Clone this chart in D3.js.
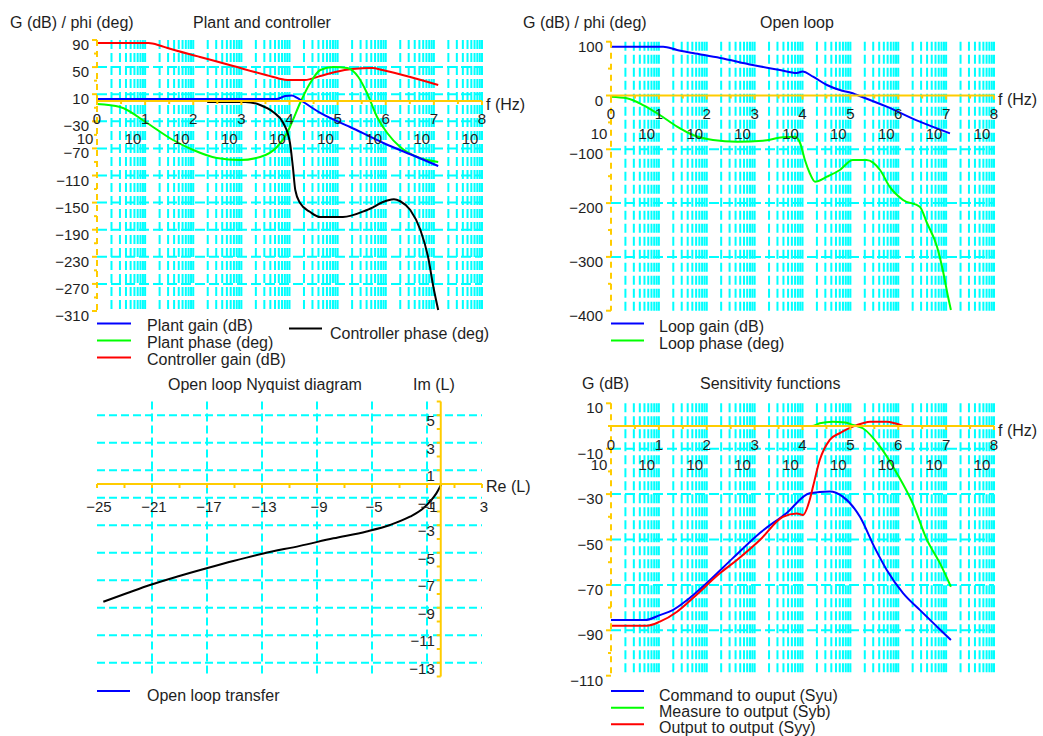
<!DOCTYPE html>
<html><head><meta charset="utf-8">
<script src="https://cdn.jsdelivr.net/npm/d3@7"></script>
<style>
body{margin:0;background:#fff}
text{font-family:"Liberation Sans",Arial,Helvetica,sans-serif;fill:#1e1e1e}
</style>
</head><body>
<svg id="c" width="1043" height="736"></svg>
<script>
// ---------- data (x values are log10 of frequency in Hz) ----------
const decadeExps = [0,1,2,3,4,5,6,7,8];

// Plant and controller
const plantGainLogF = [0,3.74,3.91,4.05,4.16,4.32,4.64,5.26,5.95,6.65,7.09];
const plantGainDb   = [2.9,2.9,7.3,8.1,4.4,-3.0,-17.7,-38.4,-62,-82.7,-96];
const plantPhaseLogF = [0,0.48,1.04,1.58,2.0,2.49,2.97,3.39,3.74,3.95,4.07,4.22,4.43,4.64,4.91,5.20,5.43,5.61,5.82,6.03,6.30,6.65,7.09];
const plantPhaseDeg  = [-4.5,-8.9,-32.5,-57.6,-72.4,-84.2,-87.1,-82.7,-67.9,-47.3,-28.1,-3.0,26.5,45.7,50.1,48.7,35.4,11.8,-23.7,-47.3,-67.9,-82.7,-90];
const ctrlGainLogF = [0,1.07,1.3,1.45,2.14,2.83,3.53,3.9,4.0,4.32,4.64,4.95,5.30,5.72,5.93,6.51,7.09];
const ctrlGainDb   = [85.6,85.4,82,78.5,65,51.5,38,31.5,31,31,36.9,42.8,47.2,48.7,45.7,35.4,23.6];
const ctrlPhaseLogF = [2.29,3.08,3.39,3.66,3.87,4.01,4.07,4.12,4.22,4.43,4.64,5.11,5.61,6.03,6.17,6.30,6.51,6.72,6.88,6.99,7.09];
const ctrlPhaseDeg  = [-1.5,-1.5,-5.9,-16.3,-32.5,-62,-97.4,-131.4,-150.6,-163.9,-171.3,-171.3,-160.9,-147,-145,-148,-160.9,-190.4,-230.3,-274.6,-308.5];
const plantTicks = [90,50,10,-30,-70,-110,-150,-190,-230,-270,-310];
const plantMinor = [70,30,-10,-50,-90,-130,-170,-210,-250,-290];

// Open loop
const loopGainLogF = [0,1.09,1.38,1.71,2.28,2.96,3.53,3.88,4.0,4.22,4.51,4.78,5.03,5.14,5.76,6.45,7.08];
const loopGainDb   = [90.7,90.7,84.6,79,69.7,56.7,47.4,41.8,44.6,34.9,19.5,10.2,4.6,0.9,-20.8,-48.7,-70.3];
const loopPhaseLogF = [0,0.33,0.67,1.02,1.38,1.71,2.13,2.63,3.17,3.59,3.84,3.95,4.05,4.15,4.26,4.51,4.78,5.05,5.34,5.62,5.82,6.10,6.45,6.60,6.81,6.93,7.04,7.10];
const loopPhaseDeg  = [-2.2,-5.2,-17.7,-36.2,-58,-73.4,-82.7,-85.9,-84,-77.7,-76.6,-88.3,-119.9,-144,-160.2,-150.9,-138.5,-119.9,-119.9,-138.5,-169.5,-194.2,-206.7,-237,-281,-324.3,-374,-398.7];
const loopTicks = [100,0,-100,-200,-300,-400];
const loopMinor = [50,-50,-150,-250,-350];

// Sensitivity functions
const syuLogF = [0,0.71,1.02,1.29,1.59,2.0,2.55,3.11,3.67,4.15,4.57,4.84,5.20,5.51,5.76,6.10,6.45,6.81,7.10];
const syuDb   = [-85.5,-85.5,-83.3,-81.1,-76.7,-69.2,-58.1,-47.1,-38.3,-29.6,-28.9,-31.1,-40,-53.7,-63.4,-73.6,-81,-88.4,-94.3];
const sybLogF = [0,4.2,4.36,4.63,4.89,5.05,5.26,5.62,5.97,6.30,6.60,6.87,7.10];
const sybDb   = [0,0,1.2,1.9,1.5,0.5,-1,-9.1,-20.8,-34,-50.2,-60.4,-70.8];
const syyLogF = [0,0.75,1.02,1.38,1.71,2.28,2.63,3.11,3.59,3.88,4.01,4.15,4.22,4.36,4.57,4.78,5.05,5.26,5.41,5.76,5.93,6.1];
const syyDb   = [-88,-88,-86.2,-81.8,-75.8,-64.8,-59,-50.2,-40,-38.5,-39.2,-32.6,-26.7,-15,-6.1,-3.1,-0.3,1.2,1.9,1.9,1.2,0];
const sensTicks = [10,-10,-30,-50,-70,-90,-110];
const sensMinor = [0,-20,-40,-60,-80,-100];

// Nyquist
const nyqRe = [-24.54,-22.84,-21.15,-19.21,-17.03,-15.09,-12.9,-10.24,-7.81,-5.39,-3.69,-2.24,-1.27,-0.68,-0.32,0.08];
const nyqIm = [-8.56,-7.95,-7.35,-6.75,-6.13,-5.6,-5.05,-4.5,-3.95,-3.45,-2.98,-2.38,-1.77,-1.16,-0.68,0.05];
const nyqReTicks = [-25,-21,-17,-13,-9,-5,-1,3];
const nyqImTicks = [5,3,1,-1,-3,-5,-7,-9,-11,-13];

// ---------- drawing ----------
const svg = d3.select("#c");
const CYAN = "#00ffff", YEL = "#ffcc00";
const TICK = 15, BIG = 16;
const fmt = v => v < 0 ? "\u2212" + Math.abs(v) : String(v);

function txt(x, y, s, size, anchor) {
  svg.append("text").attr("x", x).attr("y", y).attr("font-size", size)
    .attr("text-anchor", anchor || "start").text(s);
}
function legendLine(x1, x2, y, color) {
  svg.append("line").attr("x1", x1).attr("x2", x2).attr("y1", y).attr("y2", y)
    .attr("stroke", color).attr("stroke-width", 2);
}

function bode(cfg) {
  const x = d3.scaleLog().domain([1, 1e8]).range([cfg.x0, cfg.x1]);
  const y = d3.scaleLinear().domain(cfg.ydom).range([cfg.yb, cfg.yt]);
  const g = svg.append("g");
  const gridF = [];
  for (let k = 0; k < 8; k++) for (let m = 2; m <= 10; m++) gridF.push(m * Math.pow(10, k));
  g.selectAll(null).data(gridF).join("line")
    .attr("x1", d => x(d)).attr("x2", d => x(d)).attr("y1", cfg.yt).attr("y2", cfg.yb)
    .attr("stroke", CYAN).attr("stroke-width", 2).attr("stroke-dasharray", "9,4");
  const hT = cfg.ticks.filter(v => v !== cfg.ydom[0] && v !== cfg.ydom[1] && v !== 0);
  g.selectAll(null).data(hT).join("line")
    .attr("x1", cfg.x0).attr("x2", cfg.x1).attr("y1", d => y(d)).attr("y2", d => y(d))
    .attr("stroke", CYAN).attr("stroke-width", 2).attr("stroke-dasharray", "10,4");
  const line = d3.line().x(d => x(Math.pow(10, d[0]))).y(d => y(d[1])).curve(d3.curveMonotoneX);
  cfg.series.forEach(s => {
    g.append("path").datum(d3.zip(s.lf, s.v)).attr("d", line)
      .attr("fill", "none").attr("stroke", s.color).attr("stroke-width", 2);
  });
  // y axis (dashed yellow)
  g.append("line").attr("x1", cfg.x0).attr("x2", cfg.x0).attr("y1", cfg.yt).attr("y2", cfg.yb)
    .attr("stroke", YEL).attr("stroke-width", 2).attr("stroke-dasharray", "6,5");
  g.selectAll(null).data(cfg.ticks).join("line")
    .attr("x1", cfg.x0 - 5).attr("x2", cfg.x0).attr("y1", d => y(d)).attr("y2", d => y(d))
    .attr("stroke", YEL).attr("stroke-width", 2);
  g.selectAll(null).data(cfg.minor).join("line")
    .attr("x1", cfg.x0 - 3).attr("x2", cfg.x0).attr("y1", d => y(d)).attr("y2", d => y(d))
    .attr("stroke", YEL).attr("stroke-width", 2);
  cfg.ticks.forEach(v => txt(cfg.x0 - 8, y(v) + 10, fmt(v), TICK, "end"));
  // x axis (solid yellow at 0)
  const y0 = y(0);
  g.append("line").attr("x1", cfg.x0).attr("x2", cfg.x1).attr("y1", y0).attr("y2", y0)
    .attr("stroke", YEL).attr("stroke-width", 2);
  const halfT = d3.range(0, 17).map(i => Math.pow(10, i / 2));
  g.selectAll(null).data(halfT).join("line")
    .attr("x1", d => x(d)).attr("x2", d => x(d)).attr("y1", y0).attr("y2", (d, i) => y0 + (i % 2 ? 3 : 4))
    .attr("stroke", YEL).attr("stroke-width", 2);
  decadeExps.forEach(e => {
    const fx = x(Math.pow(10, e));
    txt(fx, y0 + 23.5, String(e), TICK, "middle");
    txt(fx - 12, y0 + 43.5, "10", TICK, "middle");
  });
  txt(cfg.x1 + 4, y0 + 9.5, "f (Hz)", BIG, "start");
}

// Top-left: Plant and controller
bode({x0: 97, x1: 482, yt: 40, yb: 311, ydom: [-310, 90], ticks: plantTicks, minor: plantMinor,
  series: [
    {lf: ctrlGainLogF, v: ctrlGainDb, color: "#ff0000"},
    {lf: plantPhaseLogF, v: plantPhaseDeg, color: "#00ff00"},
    {lf: ctrlPhaseLogF, v: ctrlPhaseDeg, color: "#000000"},
    {lf: plantGainLogF, v: plantGainDb, color: "#0000ff"}
  ]});
txt(10, 27.5, "G (dB) / phi (deg)", BIG);
txt(193, 27.5, "Plant and controller", BIG);
legendLine(97, 131, 323.5, "#0000ff"); txt(147, 331, "Plant gain (dB)", BIG);
legendLine(97, 131, 340.5, "#00ff00"); txt(147, 348, "Plant phase (deg)", BIG);
legendLine(97, 131, 357.5, "#ff0000"); txt(147, 365, "Controller gain (dB)", BIG);
legendLine(289, 322, 328.5, "#000000"); txt(330, 339, "Controller phase (deg)", BIG);

// Top-right: Open loop
bode({x0: 611, x1: 994, yt: 41.7, yb: 310.7, ydom: [-400, 100], ticks: loopTicks, minor: loopMinor,
  series: [
    {lf: loopPhaseLogF, v: loopPhaseDeg, color: "#00ff00"},
    {lf: loopGainLogF, v: loopGainDb, color: "#0000ff"}
  ]});
txt(523, 27.5, "G (dB) / phi (deg)", BIG);
txt(760, 27.5, "Open loop", BIG);
legendLine(611, 644, 323.5, "#0000ff"); txt(659, 331.5, "Loop gain (dB)", BIG);
legendLine(611, 644, 340.5, "#00ff00"); txt(659, 349, "Loop phase (deg)", BIG);

// Bottom-right: Sensitivity functions
bode({x0: 611, x1: 994, yt: 403.3, yb: 675.7, ydom: [-110, 10], ticks: sensTicks, minor: sensMinor,
  series: [
    {lf: syuLogF, v: syuDb, color: "#0000ff"},
    {lf: syyLogF, v: syyDb, color: "#ff0000"},
    {lf: sybLogF, v: sybDb, color: "#00ff00"}
  ]});
txt(582, 388.5, "G (dB)", BIG);
txt(700, 388.5, "Sensitivity functions", BIG);
legendLine(611, 644, 691, "#0000ff"); txt(659, 700.5, "Command to ouput (Syu)", BIG);
legendLine(611, 644, 707.7, "#00ff00"); txt(659, 716.5, "Measure to output (Syb)", BIG);
legendLine(611, 644, 724.3, "#ff0000"); txt(659, 733, "Output to output (Syy)", BIG);

// Bottom-left: Nyquist
(function () {
  const x = d3.scaleLinear().domain([-25, 3]).range([97, 482]);
  const y = d3.scaleLinear().domain([-14, 6]).range([676.5, 401.5]);
  const g = svg.append("g");
  const vG = nyqReTicks.filter(v => v !== -25 && v !== 3);
  g.selectAll(null).data(vG).join("line")
    .attr("x1", d => x(d)).attr("x2", d => x(d)).attr("y1", y(6)).attr("y2", y(-14))
    .attr("stroke", CYAN).attr("stroke-width", 2).attr("stroke-dasharray", "8,4");
  g.selectAll(null).data(nyqImTicks).join("line")
    .attr("x1", x(-25)).attr("x2", x(3)).attr("y1", d => y(d)).attr("y2", d => y(d))
    .attr("stroke", CYAN).attr("stroke-width", 2).attr("stroke-dasharray", "8,4");
  const line = d3.line().x(d => x(d[0])).y(d => y(d[1])).curve(d3.curveMonotoneX);
  g.append("path").datum(d3.zip(nyqRe, nyqIm)).attr("d", line)
    .attr("fill", "none").attr("stroke", "#000").attr("stroke-width", 2);
  // axes
  g.append("line").attr("x1", x(-25)).attr("x2", x(3)).attr("y1", y(0)).attr("y2", y(0))
    .attr("stroke", YEL).attr("stroke-width", 2);
  g.append("line").attr("x1", x(0)).attr("x2", x(0)).attr("y1", y(6)).attr("y2", y(-14))
    .attr("stroke", YEL).attr("stroke-width", 2);
  g.selectAll(null).data(d3.range(-25, 4, 2)).join("line")
    .attr("x1", d => x(d)).attr("x2", d => x(d)).attr("y1", y(0)).attr("y2", y(0) + 4)
    .attr("stroke", YEL).attr("stroke-width", 2);
  g.selectAll(null).data(d3.range(-14, 7, 1)).join("line")
    .attr("x1", x(0) - 4).attr("x2", x(0)).attr("y1", d => y(d)).attr("y2", d => y(d))
    .attr("stroke", YEL).attr("stroke-width", 2);
  nyqReTicks.forEach(v => txt(x(v) + 2, y(0) + 28, fmt(v), TICK, "middle"));
  nyqImTicks.forEach(v => txt(x(0) - 6, y(v) + 11, fmt(v), TICK, "end"));
  txt(486, y(0) + 7.5, "Re (L)", BIG);
  txt(413, 389.5, "Im (L)", BIG);
  txt(168, 389.5, "Open loop Nyquist diagram", BIG);
  legendLine(97, 130, 691, "#0000ff"); txt(147, 700.5, "Open loop transfer", BIG);
})();
</script>
</body></html>
